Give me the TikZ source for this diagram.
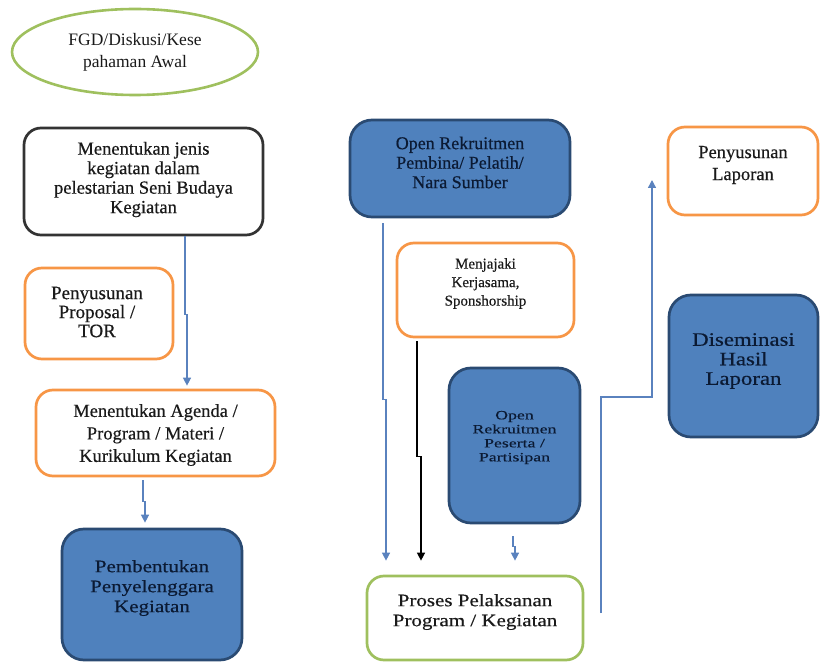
\documentclass[tikz,border=0pt]{standalone}
\usepackage{fontspec}
\setmainfont{Liberation Serif}[FakeBold=0.45]
\newfontfamily\serifwide[FakeStretch=1.2,FakeBold=0.45]{Liberation Serif}
\newfontfamily\serifwider[FakeStretch=1.4,FakeBold=0.35]{Liberation Serif}
\newfontfamily\seriflight{Liberation Serif}
\usetikzlibrary{arrows.meta,shapes.geometric,calc}

\definecolor{orangeline}{HTML}{F79646}
\definecolor{greenline}{HTML}{9FC05E}
\definecolor{bluefill}{HTML}{4F81BD}
\definecolor{blueedge}{HTML}{2A4A72}
\definecolor{navytext}{HTML}{0B1A33}
\definecolor{arrowblue}{HTML}{5A82BE}
\definecolor{inkgray}{HTML}{1A1A1A}

\tikzset{
  box/.style={draw, rounded corners=17pt, line width=2.7pt, inner sep=0pt},
  whitebox/.style={box, draw=black!80, fill=white},
  orangebox/.style={box, draw=orangeline, fill=white},
  greenbox/.style={box, draw=greenline, fill=white},
  bluebox/.style={box, rounded corners=22pt, draw=blueedge, fill=bluefill},
  txt/.style={align=center, text=inkgray, inner sep=0pt},
  bluetxt/.style={align=center, text=navytext, inner sep=0pt},
  tip/.style={-{Triangle[width=8pt,length=8pt]}},
  arr/.style={draw=arrowblue, line width=1.4pt, tip},
  blackarr/.style={draw=black, line width=1.4pt, tip}
}

\begin{document}
\begin{tikzpicture}[x=1pt,y=-1pt]
\useasboundingbox (0,0) rectangle (820,663);

% left column
\node[ellipse, draw=greenline, line width=2.6pt, fill=white,
      minimum width=246pt, minimum height=86pt, align=center, text=inkgray,
      font=\seriflight\fontsize{17.5}{22}\selectfont] (fgd) at (135,52)
      {FGD/Diskusi/Kese\\pahaman Awal};

\node[whitebox, minimum width=239pt, minimum height=107pt] (jenis) at (143.5,181.5) {};
\node[txt, font=\fontsize{18.5}{19.5}\selectfont] (jenis-t) at ([yshift=2pt]jenis.center)
      {Menentukan jenis\\kegiatan dalam\\pelestarian Seni Budaya\\Kegiatan};

\node[orangebox, minimum width=148pt, minimum height=91pt] (prop) at (99,313.5) {};
\node[txt, font=\fontsize{19}{19}\selectfont] (prop-t) at ([yshift=1.5pt,xshift=-2pt]prop.center)
      {Penyusunan\\Proposal /\\TOR};

\node[orangebox, minimum width=239pt, minimum height=86pt] (agenda) at (155.5,433) {};
\node[txt, font=\fontsize{18.5}{22.5}\selectfont] (agenda-t) at ([yshift=-2pt]agenda.center)
      {Menentukan Agenda /\\Program / Materi /\\Kurikulum Kegiatan};

\node[bluebox, minimum width=180pt, minimum height=131pt] (pemb) at (152,594.5) {};
\node[bluetxt, font=\serifwide\fontsize{17.5}{20}\selectfont] (pemb-t) at ([yshift=6.5pt]pemb.center)
      {Pembentukan\\Penyelenggara\\Kegiatan};

% middle column
\node[bluebox, minimum width=220pt, minimum height=97pt] (open1) at (460,168.5) {};
\node[bluetxt, font=\fontsize{18}{19.5}\selectfont] (open1-t) at ([yshift=6pt]open1.center)
      {Open Rekruitmen\\Pembina/ Pelatih/\\Nara Sumber};

\node[orangebox, minimum width=177pt, minimum height=94pt] (jajak) at (485.5,290) {};
\node[txt, font=\fontsize{15}{18.5}\selectfont] (jajak-t) at ([yshift=6.5pt]jajak.center)
      {Menjajaki\\Kerjasama,\\Sponshorship};

\node[bluebox, minimum width=131pt, minimum height=155pt] (peserta) at (514.5,445.5) {};
\node[bluetxt, font=\serifwider\fontsize{12.7}{14}\selectfont] (peserta-t) at ([yshift=8pt]peserta.center)
      {Open\\Rekruitmen\\Peserta /\\Partisipan};

\node[greenbox, minimum width=216pt, minimum height=84pt] (proses) at (475,618) {};
\node[txt, font=\serifwide\fontsize{17.5}{20}\selectfont] (proses-t) at ([yshift=6pt]proses.center)
      {Proses Pelaksanan\\Program / Kegiatan};

% right column
\node[orangebox, minimum width=150pt, minimum height=88pt] (lap) at (743,171) {};
\node[txt, font=\fontsize{18.5}{22}\selectfont] (lap-t) at ([yshift=6pt]lap.center)
      {Penyusunan\\Laporan};

\node[bluebox, minimum width=149pt, minimum height=142pt] (dis) at (743.5,366) {};
\node[bluetxt, font=\serifwide\fontsize{19}{19.5}\selectfont] (dis-t) at ([yshift=5pt]dis.center)
      {Diseminasi\\Hasil\\Laporan};

% columns of the connectors
\coordinate (xa) at (185,0);
\coordinate (xb) at (187,0);
\coordinate (xc) at (143,0);
\coordinate (xd) at (145,0);
\coordinate (xe) at (383,0);
\coordinate (xf) at (386,0);
\coordinate (xg) at (417,0);
\coordinate (xh) at (421,0);
\coordinate (xi) at (513,0);
\coordinate (xj) at (515,0);
\coordinate (rs) at (601,613);
\coordinate (re) at (652,180);

% connectors
\draw[arr, shorten >=3pt] (jenis.south -| xa) -- ++(0,78) -| (agenda.north -| xb);
\draw[arr, shorten <=3pt, shorten >=5pt] (agenda.south -| xc) -- ++(0,24) -| (pemb.north -| xd);
\draw[arr, shorten <=5pt, shorten >=14pt] (open1.south -| xe) -- ++(0,181) -| (proses.north -| xf);
\draw[blackarr, shorten <=3pt, shorten >=14pt] (jajak.south -| xg) -- ++(0,118) -| (proses.north -| xh);
\draw[arr, shorten <=12pt, shorten >=14pt] (peserta.south -| xi) -- ++(0,22) -| (proses.north -| xj);
\draw[arr] (rs) -- ++(0,-216) -| (re);
\end{tikzpicture}
\end{document}
